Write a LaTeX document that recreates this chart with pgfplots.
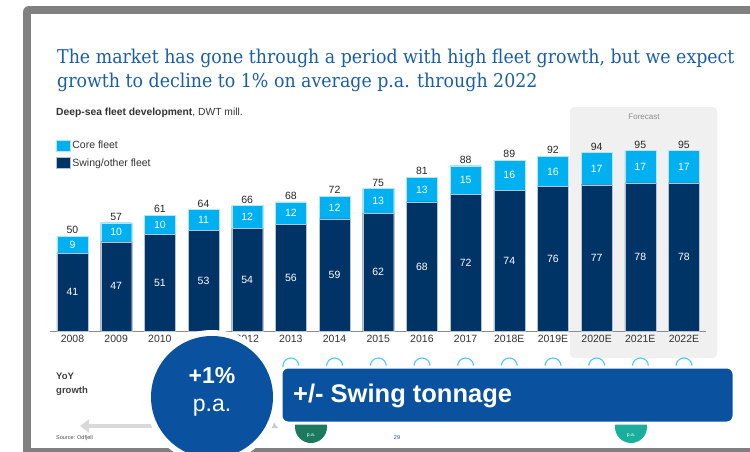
\documentclass[border=0pt]{standalone}
\usepackage{fontspec}
\setmainfont{Liberation Sans}
\newfontfamily\titlefont[FakeStretch=0.915]{DejaVu Serif}
\usepackage{pgfplots}
\pgfplotsset{compat=1.18}
\usepackage{pgfplotstable}
\usetikzlibrary{arrows.meta}

\definecolor{core}{HTML}{00B0F0}
\definecolor{swing}{HTML}{003366}
\definecolor{titleblue}{HTML}{1A5EA8}
\definecolor{boxblue}{HTML}{0A52A0}
\definecolor{frame}{HTML}{808080}
\definecolor{fcast}{HTML}{F0F0F0}
\definecolor{txt}{HTML}{333333}
\definecolor{dgreen}{HTML}{1B7A5E}
\definecolor{teal}{HTML}{1AAE9C}

% deep-sea fleet, DWT mill.
\pgfplotstableread{
x  lab    swing core totlab swmid comid top
0  2008   41    9    50     20.5  45.5  50
1  2009   47    10   57     23.5  52.0  57
2  2010   51    10   61     25.5  56.0  61
3  2011   53    11   64     26.5  58.5  64
4  2012   54    12   66     27.0  60.0  66
5  2013   56    12   68     28.0  62.0  68
6  2014   59    12   72     29.5  65.0  71
7  2015   62    13   75     31.0  68.5  75
8  2016   68    13   81     34.0  74.5  81
9  2017   72    15   88     36.0  79.5  87
10 2018E  74    16   89     37.0  82.0  90
11 2019E  76    16   92     38.0  84.0  92
12 2020E  77    17   94     38.5  85.5  94
13 2021E  78    17   95     39.0  86.5  95
14 2022E  78    17   95     39.0  86.5  95
}\fleet

\pgfplotsset{geom/.style={
    at={(50pt,-331pt)}, anchor=south west,
    scale only axis, width=656pt, height=190pt,
    xmin=-0.515, xmax=14.504, ymin=0, ymax=100,
    clip=false}}

\begin{document}
\begin{tikzpicture}
\useasboundingbox (0,0) rectangle (750pt,-451pt);
\clip (0,0) rectangle (750pt,-451pt);

\begin{scope}[x=1pt,y=-1pt]
  \fill[white] (0,0) rectangle (750,451);
  \fill[frame, rounded corners=6pt] (23,6) rectangle (780,480);
  \fill[white] (31,14) rectangle (780,448);
  \node[anchor=base west, inner sep=0, text=titleblue, font=\titlefont\fontsize{19}{22}\selectfont]
    at (57,63) {The market has gone through a period with high fleet growth, but we expect};
  \node[anchor=base west, inner sep=0, text=titleblue, font=\titlefont\fontsize{19}{22}\selectfont]
    at (57,87) {growth to decline to 1\% on average p.a. through 2022};
  \node[anchor=west, inner sep=0, text=txt, font=\fontsize{10.3}{12}\selectfont]
    at (56,113) {\textbf{Deep-sea fleet development}, DWT mill.};
  \fill[fcast, rounded corners=4pt] (570,107) rectangle (717,358);
  \node[text=black!45, font=\fontsize{8}{10}\selectfont] at (644,117) {Forecast};
\end{scope}

\begin{axis}[geom,
    ybar stacked, bar width=31pt,
    axis y line=none, axis x line*=bottom,
    x axis line style={-, draw=black!45, line width=0.6pt},
    xtick=data, xticklabels from table={\fleet}{lab},
    major tick length=0pt,
    xticklabel style={text=txt, font=\fontsize{10.5}{12}\selectfont, yshift=-1pt},
    reverse legend,
    legend style={at={(rel axis cs:0.009,1.01)}, anchor=north west, draw=none, fill=none,
      inner sep=0pt, font=\fontsize{10.5}{12}\selectfont, text=txt, row sep=4pt},
    legend cell align=left,
    legend image code/.code={\fill[#1] (0pt,-5.5pt) rectangle (14pt,5.5pt);},
  ]
  \addplot[fill=swing, draw=white!70!swing, line width=0.3pt] table[x=x, y=swing] {\fleet};
  \addlegendentry{Swing/other fleet}
  \addplot[fill=core, draw=white!70!core, line width=0.3pt] table[x=x, y=core] {\fleet};
  \addlegendentry{Core fleet}
\end{axis}

\begin{axis}[geom, axis lines=none,
    point meta=explicit symbolic, nodes near coords]
  \addplot[draw=none, nodes near coords align={anchor=center},
    every node near coord/.append style={text=white, font=\fontsize{10.5}{12}\selectfont}]
    table[x=x, y=swmid, meta=swing] {\fleet};
  \addplot[draw=none, nodes near coords align={anchor=center},
    every node near coord/.append style={text=white, font=\fontsize{10.5}{12}\selectfont}]
    table[x=x, y=comid, meta=core] {\fleet};
  \addplot[draw=none, nodes near coords align={anchor=south},
    every node near coord/.append style={text=black!85, font=\fontsize{10.5}{12}\selectfont, inner sep=2pt}]
    table[x=x, y=top, meta=totlab] {\fleet};
\end{axis}

\begin{scope}[x=1pt,y=-1pt]
  \node[anchor=west, inner sep=0, align=left, text=black!75, font=\bfseries\fontsize{9.5}{14}\selectfont]
    at (56,384) {YoY\\growth};
  \foreach \cx in {290.9,334.6,378.3,422.0,465.6,509.3,553.0,596.7,640.4,684.0}
    \draw[core!70, fill=white, line width=1.1pt] (\cx,366) circle (8);
  \draw[black!15, line width=4pt, -{Triangle[length=9pt,width=13pt]}] (160,426) -- (80,426);
  \fill[black!20] (268,428) -- (278,428) -- (273,421) -- cycle;
  \fill[dgreen] (311,427) circle (16);
  \fill[teal] (631,427) circle (16);
  \node[text=white, font=\fontsize{5}{6}\selectfont] at (311,436) {p.a.};
  \node[text=white, font=\fontsize{5}{6}\selectfont] at (631,436) {p.a.};
  \draw[white, line width=3pt, fill=boxblue, rounded corners=7pt] (281,367) rectangle (734,423);
  \node[anchor=west, inner sep=0, text=white, font=\bfseries\fontsize{25.5}{28}\selectfont]
    at (293,396) {+/- Swing tonnage};
  \node[anchor=west, inner sep=0, text=black!70, font=\fontsize{5.5}{6}\selectfont] at (56,438) {Source: Odfjell};
  \node[text=boxblue, font=\fontsize{5.5}{6}\selectfont] at (397,438) {29};
  \fill[frame] (23,448) rectangle (750,451);
  \fill[white] (212,397) circle (67);
  \fill[boxblue] (212,397) circle (61);
  \node[text=white, font=\bfseries\fontsize{23}{26}\selectfont] at (212,376) {+1\%};
  \node[text=white, font=\fontsize{23}{26}\selectfont] at (212,408) {p.a.};
\end{scope}
\end{tikzpicture}
\end{document}
